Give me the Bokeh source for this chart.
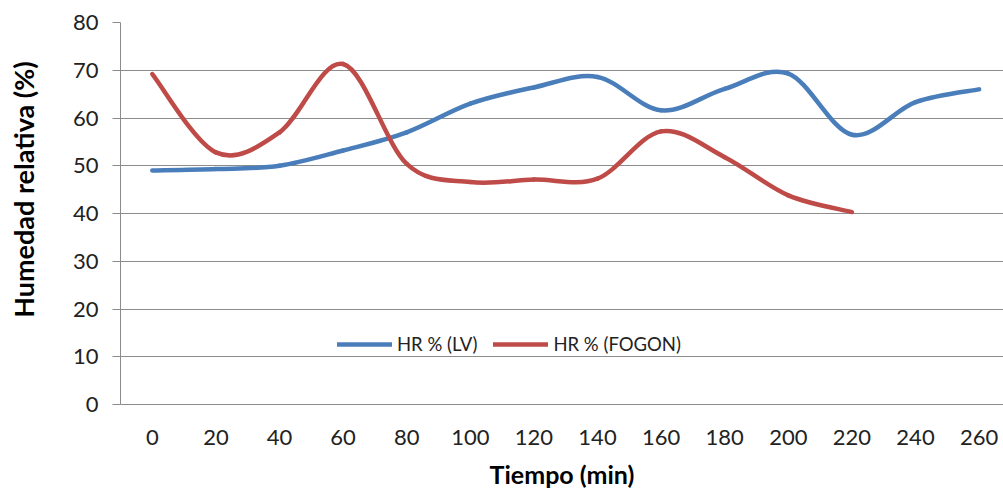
from bokeh.plotting import figure
from bokeh.models import ColumnDataSource, FixedTicker, Legend, LegendItem, Label
from bokeh.embed import file_html
from bokeh.resources import INLINE
import math

# Time (min) and relative humidity (%) readings
tiempo_lv = [0, 20, 40, 60, 80, 100, 120, 140, 160, 180, 200, 220, 240, 260]
hr_lv = [49.0, 49.3, 50.0, 53.2, 57.0, 63.0, 66.4, 68.6, 61.6, 66.1, 69.3, 56.5, 63.3, 66.0]

tiempo_fogon = [0, 20, 40, 60, 80, 100, 120, 140, 160, 180, 200, 220]
hr_fogon = [69.2, 52.8, 57.0, 71.3, 50.4, 46.6, 47.1, 47.3, 57.2, 51.8, 43.8, 40.3]

x_ticks = list(range(0, 261, 20))
y_ticks = list(range(0, 81, 10))

FONT = "Lato"
BLUE = "#4A7EBB"
RED = "#BE4B48"
GRID = "#8c8c8c"


def smooth_segments(xs, ys):
    """Cubic Bezier segments through every point (Catmull-Rom style tangents)."""
    n = len(xs)
    seg = dict(x0=[], y0=[], x1=[], y1=[], cx0=[], cy0=[], cx1=[], cy1=[])
    for i in range(n - 1):
        xp, yp = (xs[i - 1], ys[i - 1]) if i > 0 else (xs[i], ys[i])
        xn, yn = (xs[i + 2], ys[i + 2]) if i + 2 < n else (xs[i + 1], ys[i + 1])
        seg["x0"].append(xs[i]); seg["y0"].append(ys[i])
        seg["x1"].append(xs[i + 1]); seg["y1"].append(ys[i + 1])
        seg["cx0"].append(xs[i] + (xs[i + 1] - xp) / 6)
        seg["cy0"].append(ys[i] + (ys[i + 1] - yp) / 6)
        seg["cx1"].append(xs[i + 1] - (xn - xs[i]) / 6)
        seg["cy1"].append(ys[i + 1] - (yn - ys[i]) / 6)
    return ColumnDataSource(seg)


p = figure(
    width=1003, height=493,
    x_range=(-10, 267.67), y_range=(0, 80),
    output_backend="svg", toolbar_location=None,
    min_border_left=120, min_border_right=0,
    min_border_top=22, min_border_bottom=89,
)
p.outline_line_color = None
p.background_fill_color = "white"
p.border_fill_color = "white"

# grid
p.xgrid.grid_line_color = None
p.ygrid.grid_line_color = GRID
p.ygrid.grid_line_width = 1
p.ygrid.ticker = FixedTicker(ticks=y_ticks)

# y axis
p.yaxis.ticker = FixedTicker(ticks=y_ticks)
p.yaxis.axis_line_color = GRID
p.yaxis.major_tick_line_color = GRID
p.yaxis.major_tick_out = 8
p.yaxis.major_tick_in = 0
p.yaxis.minor_tick_line_color = None
p.yaxis.major_label_standoff = 14
p.yaxis.major_label_text_font = FONT
p.yaxis.major_label_text_font_size = "22px"
p.yaxis.major_label_text_color = "#222222"

# x axis
p.xaxis.ticker = FixedTicker(ticks=x_ticks)
p.xaxis.axis_line_color = GRID
p.xaxis.major_tick_line_color = None
p.xaxis.major_tick_out = 0
p.xaxis.major_tick_in = 0
p.xaxis.minor_tick_line_color = None
p.xaxis.major_label_standoff = 25
p.xaxis.major_label_text_font = FONT
p.xaxis.major_label_text_font_size = "22px"
p.xaxis.major_label_text_color = "#222222"
p.xaxis.axis_label = "Tiempo (min)"
p.xaxis.axis_label_standoff = 11
p.xaxis.axis_label_text_font = FONT
p.xaxis.axis_label_text_font_style = "bold"
p.xaxis.axis_label_text_font_size = "25px"
p.xaxis.axis_label_text_color = "black"

# y axis title, in the left side panel, in canvas coordinates
p.add_layout(Label(
    x=23, y=189, x_units="canvas", y_units="canvas",
    text="Humedad relativa (%)", angle=math.pi / 2,
    text_align="center", text_baseline="middle",
    text_font=FONT, text_font_style="bold", text_font_size="27px",
    text_color="black",
), "left")

r_lv = p.bezier(x0="x0", y0="y0", x1="x1", y1="y1", cx0="cx0", cy0="cy0",
                cx1="cx1", cy1="cy1", source=smooth_segments(tiempo_lv, hr_lv),
                line_color=BLUE, line_width=4.5, line_cap="round")
r_fg = p.bezier(x0="x0", y0="y0", x1="x1", y1="y1", cx0="cx0", cy0="cy0",
                cx1="cx1", cy1="cy1", source=smooth_segments(tiempo_fogon, hr_fogon),
                line_color=RED, line_width=4.5, line_cap="round")

legend = Legend(
    items=[LegendItem(label="HR % (LV)", renderers=[r_lv], index=0),
           LegendItem(label="HR % (FOGON)", renderers=[r_fg], index=0)],
    orientation="horizontal", location=(217, 49),
    border_line_color=None, background_fill_alpha=0,
    padding=0, margin=0, spacing=16,
    glyph_width=55, glyph_height=20, label_height=20, label_standoff=5,
    label_text_font=FONT, label_text_font_size="18.5px", label_text_color="#222222",
)
p.add_layout(legend)

open("out.html", "w").write(file_html(p, INLINE))
